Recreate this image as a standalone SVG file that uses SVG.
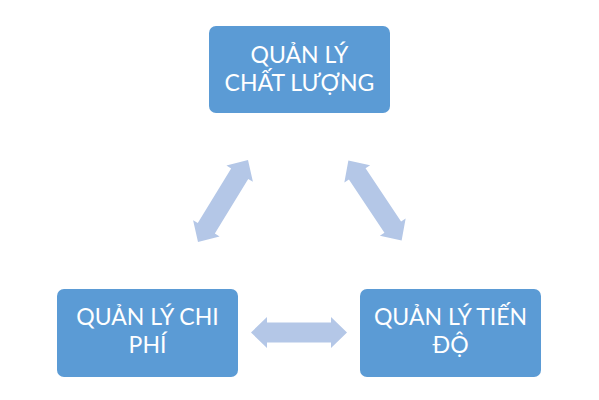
<svg xmlns="http://www.w3.org/2000/svg" width="599" height="400" viewBox="0 0 599 400">
<defs>
<style>
.box{fill:#5B9BD5;}
.lbl{fill:#FFFFFF;font-family:Lato,"Open Sans",sans-serif;font-size:23px;text-anchor:middle;}
.arr{fill:#B4C7E7;}
</style>
<polygon id="dbl" points="-48,0 -32,-15.5 -32,-10 32,-10 32,-15.5 48,0 32,15.5 32,10 -32,10 -32,15.5"/>
</defs>
<rect width="599" height="400" fill="#FFFFFF"/>
<g id="connectors">
<use href="#dbl" class="arr" transform="translate(223,201) rotate(-58.6)"/>
<use href="#dbl" class="arr" transform="translate(375,200.5) rotate(56.3)"/>
<use href="#dbl" class="arr" transform="translate(299,332.5)"/>
</g>
<g id="node-chat-luong">
<rect class="box" x="209" y="26" width="181" height="87" rx="7"/>
<text class="lbl"><tspan x="299.5" y="63">QUẢN LÝ</tspan><tspan x="299.5" y="91">CHẤT LƯỢNG</tspan></text>
</g>
<g id="node-chi-phi">
<rect class="box" x="57" y="289" width="181" height="88" rx="7"/>
<text class="lbl"><tspan x="147.5" y="325">QUẢN LÝ CHI</tspan><tspan x="147.5" y="353">PHÍ</tspan></text>
</g>
<g id="node-tien-do">
<rect class="box" x="360" y="289" width="181" height="88" rx="7"/>
<text class="lbl"><tspan x="450.5" y="325">QUẢN LÝ TIẾN</tspan><tspan x="450.5" y="353">ĐỘ</tspan></text>
</g>
</svg>
